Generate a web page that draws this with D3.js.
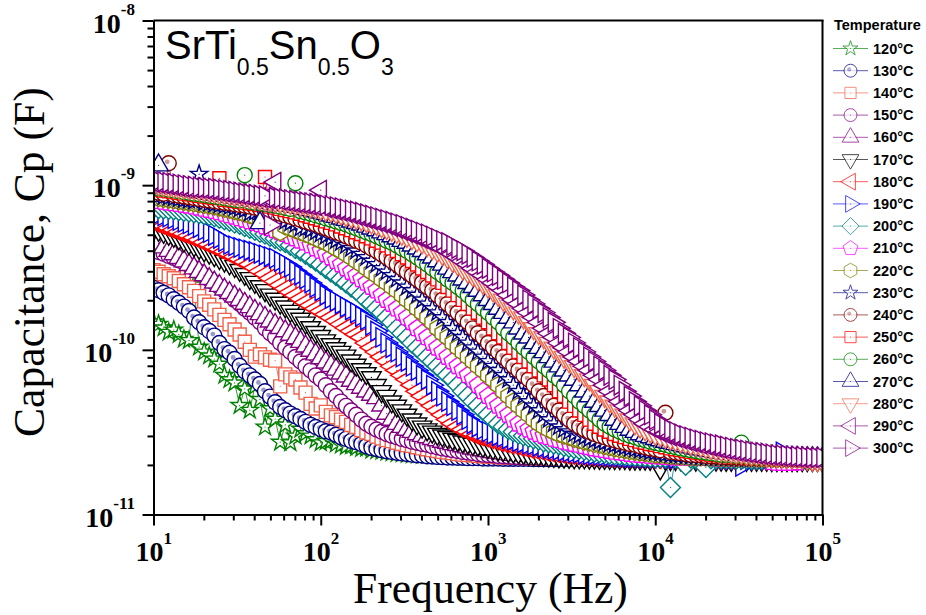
<!DOCTYPE html>
<html lang="en">

<head>
    <meta charset="UTF-8">
    <title>SrTi0.5Sn0.5O3 capacitance</title>
    <script src="https://d3js.org/d3.v7.min.js"></script>
    <style>
        html, body { margin: 0; padding: 0; background: #fff; }
        svg { display: block; }
    </style>
</head>

<body>
    <svg id="chart" width="926" height="615"></svg>
    <script>
        // frequency sweep in Hz
        const freq = [
            10,10.72,11.5,12.33,13.22,14.17,15.2,16.3,17.48,18.74,20.09,21.54,23.1,24.77,26.56,28.48,30.54,32.75,35.11,37.65,40.37,43.29,46.42,49.77,53.37,57.22,61.36,65.79,70.55,75.65,81.11,86.97,93.26,
            100,107.2,115,123.3,132.2,141.7,152,163,174.8,187.4,200.9,215.4,231,247.7,265.6,284.8,305.4,327.5,351.1,376.5,403.7,432.9,464.2,497.7,533.7,572.2,613.6,657.9,705.5,756.5,811.1,869.7,932.6,
            1000,1072,1150,1233,1322,1417,1520,1630,1748,1874,2009,2154,2310,2477,2656,2848,3054,3275,3511,3765,4037,4329,4642,4977,5337,5722,6136,6579,7055,7565,8111,8697,9326,
            10000,10720,11500,12330,13220,14170,15200,16300,17480,18740,20090,21540,23100,24770,26560,28480,30540,32750,35110,37650,40370,43290,46420,49770,53370,57220,61360,65790,70550,75650,81110,86970,93260,100000
        ];

        // capacitance in pF, one list per temperature
        const c120 = [
            148,143,136,128,132,124,116,114,248,104,
            97,92,88,82,70,66,63,46,58,43,
            60,50,34,44,38,27.5,35,27.3,30,33,
            31,30,28.5,27.3,27.8,28,26.8,26.4,25.9,26.2,
            25.5,25.2,25.3,24.6,24.4,24.2,23.9,23.7,23.5,23.4,23.2,
            23.1,23,22.9,22.9,22.8,22.8,22.7,22.7,22.6,22.6,22.5,
            22.5,22.5,22.4,22.4,22.4,22.3,22.3,22.3,22.2,22.2,22.2,
            22.2,22.1,22.1,22.1,22.1,22,22,22,22,22,21.9,
            21.9,21.9,21.9,21.9,21.9,21.8,21.8,21.8,21.8,21.8,21.8,
            21.7,21.7,21.7,21.7,21.7,21.7,21.7,21.7,21.7,21.7,21.7,
            21.7,21.6,21.6,21.6,21.6,21.6,21.6,21.6,21.6,21.6,21.6,
            21.6,21.6,21.6,21.6,21.5,21.5,21.5,21.5,21.5,21.5,21.5,
            21.5,21.5,21.5,21.5,21.5
        ];
        const c130 = [
            238,230,222,214,203,193,183,172,157,147,
            137,130,122,110,101,96,88,80,74,70,
            66,62,56,52,48,45,43,41,39.5,38,
            36.5,35,34,33,32,31.5,30.5,29.5,28.8,28,
            27.5,26.8,26,25.4,25,24.6,24.2,24,23.7,23.5,
            23.3,23.1,22.9,22.8,22.6,22.5,22.4,22.3,22.2,22.2,
            22.1,22.1,22,22,22,
            21.9,21.9,21.9,21.9,21.8,21.8,21.8,21.8,21.8,21.8,21.7,
            21.7,21.7,21.7,21.7,21.7,21.7,21.7,21.7,21.7,21.7,21.7,
            21.7,21.6,21.6,21.6,21.6,21.6,21.6,21.6,21.6,21.6,21.6,
            21.6,21.6,21.6,21.5,21.5,21.5,21.5,21.5,21.5,21.5,21.5,
            21.5,21.5,21.5,21.5,21.5,21.5,21.5,21.5,21.5,21.5,21.5,
            21.5,21.4,21.4,21.4,21.4,21.4,21.4,21.4,21.4,21.4,21.4,
            21.4,21.4
        ];
        const c140 = [
            305,298,288,280,272,262,250,240,228,212,
            197,188,176,163,152,143,133,124,112,100,
            91,94,90,87,86,60,71,68,66,59,
            55,47,44,46,42,40,39,37.7,36.5,35,
            34,32.5,31.5,30.8,29.7,29,28.3,27.9,27.3,26.8,
            26.4,26.1,25.6,25.2,24.9,24.6,24.3,24,23.8,23.6,
            23.3,23.1,23,22.9,22.7,22.6,22.5,22.4,22.3,22.2,
            22.2,22.1,22.1,22,22,22,
            21.9,21.9,21.9,21.8,21.8,21.8,21.8,21.8,21.7,21.7,21.7,
            21.7,21.7,21.6,21.6,21.6,21.6,21.6,21.6,21.5,21.5,21.5,
            21.5,21.5,21.5,21.5,21.4,21.4,21.4,21.4,21.4,21.4,21.4,
            21.4,21.4,21.4,21.3,21.3,21.3,21.3,21.3,21.3,21.3,21.3,
            21.3,21.3,21.3,21.3,21.3,21.3,21.3,21.3,21.3,21.3,21.3,
            21.3,21.3
        ];
        const c150 = [
            403,393,383,372,361,350,339,327,313,298,283,
            268,255,241,229,215,201,190,178,
            168,157,147,135,126,119,110,103,97,90.5,85,
            79.5,75,70,66,61,56,52.4,48.5,45.7,42.8,40.3,
            37.7,35.6,34.1,32.8,31.8,30.8,30.1,29.5,28.8,28.3,27.7,
            27.3,26.8,26.5,26,25.6,25.2,24.9,24.6,24.3,24,23.8,
            23.6,23.3,23.1,23,22.9,22.7,22.6,22.5,22.4,22.3,22.2,
            22.2,22.2,22.1,22.1,22,22,22,21.9,21.9,21.9,21.8,
            21.8,21.8,21.8,21.7,21.7,21.7,21.7,21.6,21.6,21.6,21.6,
            21.6,21.5,21.5,21.5,21.5,21.5,21.5,21.4,21.4,21.4,21.4,
            21.4,21.4,21.4,21.4,21.4,21.3,21.3,21.3,21.3,21.3,21.3,
            21.3,21.3,21.3,21.3,21.2,21.2,21.2,21.2,21.2,21.2,21.2,
            21.2,21.2,21.2,21.2
        ];
        const c160 = [
            464,442,420,400,381,362,345,328,313,298,
            284,270,257,245,233,222,211,201,191,182,
            173,165,157,149,142,136,130,124,118,112,
            105,99,94,89,84,80,76,72,69,65,
            62,59,56,53.5,51,46,41,
            37.7,35.6,34.1,32.8,31.8,30.8,30.1,29.5,28.8,28.3,27.7,
            27.3,26.8,26.5,26,25.6,25.2,24.9,24.6,24.3,24,23.8,
            23.6,23.3,23.1,23,22.9,22.7,22.6,22.5,22.4,22.3,22.2,
            22.2,22.2,22.1,22.1,22,22,22,21.9,21.9,21.9,21.8,
            21.8,21.8,21.8,21.7,21.7,21.7,21.7,21.6,21.6,21.6,21.6,
            21.6,21.5,21.5,21.5,21.5,21.5,21.5,21.4,21.4,21.4,21.4,
            21.4,21.4,21.4,21.4,21.4,21.3,21.3,21.3,21.3,21.3,21.3,
            21.3,21.3,21.3,21.3,21.2,21.2,21.2,21.2,21.2
        ];
        const c170 = [
            549,534,519,504,490,474,459,444,430,415,
            401,388,375,360,347,334,322,305,288,272,
            258,243,230,216,204,193,183,172,163,154,
            146,137,128,121,114,108,102,97,92,86,
            81,76,72,68,61,
            56,52.4,48.5,45.7,42.8,40.3,
            37.7,35.6,34.1,32.8,31.8,30.8,30.1,29.5,28.8,28.3,27.7,
            27.3,26.8,26.5,26,25.6,25.2,24.9,24.6,24.3,24,23.8,
            23.6,23.3,23.1,23,22.9,22.7,22.6,22.5,22.4,22.3,22.2,
            22.2,22.2,22.1,22.1,22,22,22,21.9,21.9,21.9,21.8,
            21.8,21.8,21.8,21.7,21.7,19,21.7,21.6,21.6,21.6,21.6,
            21.6,21.5,21.5,21.5,21.5,21.5,21.5,21.4,21.4,21.4,21.4,
            21.4,21.4,21.4,21.4,21.4,21.3,21.3,21.3,21.3,21.3,21.3,
            21.3,21.3,21.3,21.3,21.2
        ];
        const c180 = [
            596,580,565,550,535,520,507,493,480,465,
            450,436,422,408,395,381,368,355,342,330,
            316,300,288,272,260,247,235,224,214,204,
            194,186,178,171,164,157,150,143,136,130,
            124,119,
            110,103,97,90.5,85,
            79.5,75,70,66,61,56,52.4,48.5,45.7,42.8,40.3,
            37.7,35.6,34.1,32.8,31.8,30.8,30.1,29.5,28.8,28.3,27.7,
            27.3,26.8,26.5,26,25.6,25.2,24.9,24.6,24.3,24,23.8,
            23.6,23.3,23.1,23,22.9,22.7,22.6,22.5,22.4,22.3,22.2,
            22.2,22.2,22.1,22.1,22,22,22,21.9,21.9,21.9,21.8,
            21.8,21.8,21.8,21.7,21.7,21.7,21.7,21.6,21.6,21.6,21.6,
            21.6,21.5,21.5,21.5,21.5,21.5,21.5,21.4,21.4,21.4,21.4,
            21.4,21.4,21.4,21.4,21.4,21.3,21.3,21.3,21.3
        ];
        const c190 = [
            677,665,652,640,625,610,595,583,570,552,
            532,515,495,475,455,437,428,418,410,402,
            395,385,377,368,360,345,332,318,300,285,
            270,255,240,228,215,205,198,190,182,175,
            168,160,152,141,130,119,
            110,103,97,90.5,85,
            79.5,75,70,66,61,56,52.4,48.5,45.7,42.8,40.3,
            37.7,35.6,34.1,32.8,31.8,30.8,30.1,29.5,28.8,28.3,27.7,
            27.3,26.8,26.5,26,25.6,25.2,24.9,24.6,24.3,24,23.8,
            23.6,23.3,23.1,23,22.9,22.7,22.6,22.5,22.4,22.3,22.2,
            22.2,22.2,22.1,22.1,22,22,22,21.9,21.9,21.9,21.8,
            21.8,21.8,21.8,21.7,21.7,21.7,21.7,21.6,21.6,21.6,19.6,
            21.6,21.5,21.5,21.5,21.5,21.5,21.5,24,21.4,21.4,21.4,
            21.4,21.4,21.4,21.4,21.4
        ];
        const c200 = [
            726,722,718,714,708,702,695,688,680,672,664,655,643,
            629,617,603,590,578,561,547,533,518,505,
            490,475,460,448,431,413,399,381,364,346,330,
            312,297,283,268,255,241,229,215,201,190,178,
            168,157,147,135,126,119,110,103,97,90.5,85,
            79.5,75,70,66,61,56,52.4,48.5,45.7,42.8,40.3,
            37.7,35.6,34.1,32.8,31.8,30.8,30.1,29.5,28.8,28.3,27.7,
            27.3,26.8,26.5,26,25.6,25.2,24.9,24.6,24.3,24,23.8,
            23.6,23.3,23.1,23,22.9,22.7,22.6,22.5,22.4,22.3,22.2,
            22.2,22.2,14.6,22.1,22,19.9,22,21.9,21.9,19.3,21.8,
            21.8,21.8,21.8,21.7,21.7,21.7,21.7,21.6,21.6,21.6,21.6,
            21.6,21.5,21.5,21.5,21.5,21.5,21.5,21.4,21.4,21.4,21.4
        ];
        const c210 = [
            809,800,792,783,776,
            767,758,751,741,730,718,707,696,684,670,656,
            643,629,617,603,590,578,561,547,533,518,505,
            490,475,460,448,431,413,399,381,364,346,330,
            312,297,283,268,255,241,229,215,201,190,178,
            168,157,147,135,126,119,110,103,97,90.5,85,
            79.5,75,70,66,61,56,52.4,48.5,45.7,42.8,40.3,
            37.7,35.6,34.1,32.8,31.8,30.8,30.1,29.5,28.8,28.3,27.7,
            27.3,26.8,26.5,26,25.6,25.2,24.9,24.6,24.3,24,23.8,
            23.6,23.3,23.1,23,22.9,22.7,22.6,22.5,22.4,22.3,22.2,
            22.2,22.2,22.1,22.1,22,22,22,21.9,21.9,21.9,21.8,
            21.8,21.8,21.8,21.7,21.7,21.7,21.7,20.8,20.6,20.6,20.6,
            20.6,20.7,21.5,21.5,21.5,21.5,21.4
        ];
        const c220 = [
            844,835,826,816,809,800,792,783,776,
            767,758,751,741,730,718,707,696,684,670,656,
            643,629,617,603,590,519,561,547,533,518,505,
            490,475,460,448,431,413,399,381,364,346,330,
            312,297,283,268,255,241,229,215,201,190,178,
            168,157,147,135,126,119,110,103,97,90.5,85,
            79.5,75,70,66,61,56,52.4,48.5,45.7,42.8,40.3,
            37.7,35.6,34.1,32.8,31.8,30.8,30.1,29.5,28.8,28.3,27.7,
            27.3,26.8,26.5,26,25.6,25.2,24.9,24.6,24.3,24,23.8,
            23.6,23.3,23.1,23,22.9,22.7,22.6,22.5,22.4,22.3,22.2,
            22.2,22.2,22.1,22.1,22,22,22,21.9,21.9,21.9,21.8,
            21.8,21.8,21.8,21.7,21.7,21.7,21.7,21.6,21.6,21.6,21.6,
            21.6,21.5,21.5
        ];
        const c230 = [
            871,
            862,853,844,835,826,816,809,800,1166,783,776,
            767,758,751,741,730,718,707,677,684,670,656,
            643,629,617,603,590,578,549,547,533,518,505,
            490,475,460,448,431,413,399,381,364,346,330,
            312,297,283,268,255,241,229,215,201,190,178,
            168,157,147,135,126,119,110,103,97,90.5,85,
            79.5,75,70,66,61,56,52.4,48.5,45.7,42.8,40.3,
            37.7,35.6,34.1,32.8,31.8,30.8,30.1,29.5,28.8,28.3,27.7,
            27.3,26.8,26.5,26,25.6,25.2,24.9,24.6,24.3,24,23.8,
            23.6,23.3,23.1,23,22.9,22.7,22.6,22.5,22.4,22.3,22.2,
            22.2,22.2,22.1,22.1,22,22,22,21.9,21.9,21.9,21.8,
            21.8,21.8,21.8,21.7,21.7,21.7,21.7,21.6,21.6,21.6,21.6
        ];
        const c240 = [
            908,899,889,1358,871,
            862,853,844,835,826,816,809,800,792,783,776,
            767,758,751,741,730,718,707,696,684,670,656,
            643,629,617,603,590,578,561,547,533,518,505,
            490,475,460,448,431,413,399,381,364,346,330,
            312,297,283,268,255,241,229,215,201,190,178,
            168,157,147,135,126,119,110,103,97,90.5,85,
            79.5,75,70,66,61,56,52.4,48.5,45.7,42.8,40.3,
            37.7,35.6,34.1,32.8,31.8,30.8,30.1,29.5,28.8,28.3,27.7,
            27.3,26.8,26.5,26,25.6,25.2,24.9,24.6,41.5,24,23.8,
            23.6,23.3,23.1,23,22.9,22.7,22.6,22.5,22.4,22.3,22.2,
            22.2,22.2,22.1,22.1,22,22,22,21.9,21.9,21.9,21.8,
            21.8,21.8,21.8,21.8,21.7,21.7,21.7
        ];
        const c250 = [
            949,938,928,919,908,899,889,880,871,
            862,853,844,835,1101,816,809,800,792,783,776,
            767,758,1120,741,730,718,707,696,684,670,656,
            643,629,617,603,590,578,561,547,533,518,505,
            490,475,460,448,431,413,399,381,364,346,330,
            312,297,283,268,255,241,229,215,201,190,178,
            168,157,147,135,126,119,110,103,97,90.5,85,
            79.5,75,70,66,61,56,52.4,48.5,45.7,42.8,40.3,
            37.7,35.6,34.1,32.8,31.8,30.8,30.1,29.5,28.8,28.3,27.7,
            27.3,26.8,26.5,26,25.6,25.2,24.9,24.6,24.3,24,23.8,
            23.6,23.3,23.1,23,22.9,22.7,22.6,22.5,22.4,22.3,22.2,
            22.2,22.2,22.1,22.1,22,22,22,21.9,21.9,21.9,21.8,
            21.8,21.8,21.8
        ];
        const c260 = [
            963,958,949,938,928,919,908,899,889,880,871,
            862,853,844,835,826,816,809,1150,792,783,776,
            767,758,751,741,730,718,1028,696,684,670,656,
            643,629,617,603,590,578,561,547,533,518,505,
            490,475,460,448,431,413,399,381,364,346,330,
            312,297,283,268,255,241,229,215,201,190,178,
            168,157,147,135,126,119,110,103,97,90.5,85,
            79.5,75,70,66,61,56,52.4,48.5,45.7,42.8,40.3,
            37.7,35.6,34.1,32.8,31.8,30.8,30.1,29.5,28.8,28.3,27.7,
            27.3,26.8,26.5,26,25.6,25.2,24.9,24.6,24.3,24,23.8,
            23.6,23.3,23.1,23,22.9,22.7,27.3,22.5,22.4,22.3,22.2,
            22.2,22.2,22.1,22.1,22,22,22,21.9,21.9,21.9,21.8,
            21.8
        ];
        const c270 = [
            985,1321,968,
            963,958,949,938,928,919,908,899,889,880,871,
            862,853,844,835,826,816,809,589,792,783,776,
            767,758,751,741,730,718,707,696,684,670,656,
            643,629,617,603,590,578,561,547,533,518,505,
            490,475,460,448,431,413,399,381,364,346,330,
            312,297,283,268,255,241,229,215,201,190,178,
            168,157,147,135,126,119,110,103,97,90.5,85,
            79.5,75,70,66,61,56,52.4,48.5,45.7,42.8,40.3,
            37.7,35.6,34.1,32.8,31.8,30.8,30.1,29.5,28.8,28.3,27.7,
            27.3,26.8,26.5,26,25.6,25.2,24.9,24.6,24.3,24,23.8,
            23.6,23.3,23.1,23,22.9,22.7,22.6,22.5,22.4,22.3,22.2,
            22.2,22.2,22.1,22.1,22,22,22,21.9,21.9
        ];
        const c280 = [
            1017,1007,996,985,975,968,
            963,958,949,938,928,919,908,899,889,880,871,
            862,853,844,835,826,816,809,800,792,783,776,
            767,758,751,741,730,718,707,696,684,670,656,
            643,629,617,603,590,578,561,547,533,518,505,
            490,475,460,448,431,413,399,381,364,346,330,
            312,297,283,268,255,241,229,215,201,190,178,
            168,157,147,135,126,119,110,103,97,90.5,85,
            79.5,75,70,66,61,56,52.4,48.5,45.7,42.8,40.3,
            37.7,35.6,34.1,32.8,31.8,30.8,30.1,29.5,28.8,28.3,27.7,
            27.3,26.8,26.5,26,25.6,25.2,24.9,24.6,24.3,24,23.8,
            23.6,23.3,23.1,23,22.9,22.7,22.6,22.5,22.4,22.3,22.2,
            22.2,22,21.8,21.5,21.3,21.1
        ];
        const c290 = [
            1038,1028,1017,1007,996,985,975,968,
            963,958,949,938,928,919,908,899,889,880,871,
            862,853,844,835,826,1043,809,800,792,783,776,
            767,758,751,933,730,718,707,696,684,670,656,
            643,629,617,603,590,578,561,547,533,518,505,
            490,475,460,448,431,413,399,381,364,346,330,
            312,297,283,268,255,241,229,215,201,190,178,
            168,157,147,135,126,119,110,103,97,90.5,85,
            79.5,75,70,66,61,56,52.4,48.5,45.7,42.8,40.3,
            37.7,35.6,34.1,32.8,31.8,30.8,30.1,29.5,28.8,28.3,27.7,
            27.3,26.8,26.5,26,25.6,25.2,24.9,24.6,24.3,24,23.8,
            23.6,23.3,23.1,23,22.9,22.7,22.6,22.5,22.4,22.3,22.2,
            22.2,22.2,22.1,22.1
        ];
        const c300 = [
            1072,1061,1050,1038,1028,1017,1007,996,985,975,968,
            963,958,949,938,928,919,908,899,889,880,871,
            862,573,844,835,826,816,809,800,792,783,776,
            767,758,751,741,730,718,707,696,684,670,656,
            643,629,617,603,590,578,561,547,533,518,505,
            490,475,460,448,431,413,399,381,364,346,330,
            312,297,283,268,255,241,229,215,201,190,178,
            168,157,147,135,126,119,110,103,97,90.5,85,
            79.5,75,70,66,61,56,52.4,48.5,45.7,42.8,40.3,
            37.7,35.6,34.1,32.8,31.8,30.8,30.1,29.5,28.8,28.3,27.7,
            27.3,26.8,26.5,26,25.6,25.2,24.9,24.6,24.3,24,23.8,
            23.6,23.3,23.1,23,22.9,22.7,22.6,22.5,22.4,22.3,22.2,
            22.2
        ];

        const series = [c120, c130, c140, c150, c160, c170, c180, c190, c200, c210,
            c220, c230, c240, c250, c260, c270, c280, c290, c300];
        const temps = ["120", "130", "140", "150", "160", "170", "180", "190", "200", "210",
            "220", "230", "240", "250", "260", "270", "280", "290", "300"];
        const xTickExp = [1, 2, 3, 4, 5];
        const yTickExp = [-11, -10, -9, -8];

        const colors = ["#008000", "#000080", "#f0604a", "#800080", "#800080", "#000000", "#ff0000",
            "#0000ff", "#008080", "#ff00ff", "#808000", "#000080", "#800000", "#ff0000", "#008000",
            "#000080", "#f0684e", "#800080", "#800080"];
        const shapes = ["star", "ball", "square", "circle", "up", "down", "left", "right", "diamond",
            "pentagon", "hexagon", "star", "ball", "square", "circle", "up", "down", "left", "right"];

        const serif = "'Liberation Serif','Times New Roman',serif";
        const sans = "'Liberation Sans',Arial,sans-serif";

        const svg = d3.select("#chart");
        const x = d3.scaleLog().domain([1e1, 1e5]).range([153.5, 822.5]);
        const y = d3.scaleLog().domain([1e-11, 1e-8]).range([514.5, 20.5]);

        // regular polygon with a point on top, for d3.symbol
        function polygon(n) {
            return {
                draw(ctx, size) {
                    const r = Math.sqrt(size);
                    for (let i = 0; i < n; i++) {
                        const a = -Math.PI / 2 + i * 2 * Math.PI / n;
                        if (i == 0) ctx.moveTo(r * Math.cos(a), r * Math.sin(a));
                        else ctx.lineTo(r * Math.cos(a), r * Math.sin(a));
                    }
                    ctx.closePath();
                }
            };
        }

        const symbolPath = {
            star: d3.symbol().type(d3.symbolStar).size(95)(),
            ball: d3.symbol().type(d3.symbolCircle).size(177)(),
            circle: d3.symbol().type(d3.symbolCircle).size(177)(),
            square: d3.symbol().type(d3.symbolSquare).size(169)(),
            up: d3.symbol().type(d3.symbolTriangle).size(165)(),
            down: d3.symbol().type(d3.symbolTriangle).size(165)(),
            left: d3.symbol().type(d3.symbolTriangle).size(165)(),
            right: d3.symbol().type(d3.symbolTriangle).size(165)(),
            diamond: d3.symbol().type(polygon(4)).size(100)(),
            pentagon: d3.symbol().type(polygon(5)).size(81)(),
            hexagon: d3.symbol().type(polygon(6)).size(72)()
        };
        const symbolTurn = { down: 180, left: -90, right: 90 };

        // one marker, white filled so that the next one hides it
        function drawMarker(g, shape, color, sw) {
            g.append("path")
                .attr("d", symbolPath[shape])
                .attr("transform", symbolTurn[shape] ? "rotate(" + symbolTurn[shape] + ")" : null)
                .attr("fill", "#fff")
                .attr("stroke", color)
                .attr("stroke-width", sw);
            if (shape == "ball") {
                g.append("circle").attr("cx", -1.5).attr("cy", -1.5).attr("r", 2.4)
                    .attr("fill", color).attr("opacity", 0.4);
            } else {
                g.append("circle").attr("r", 0.6).attr("fill", color);
            }
        }

        // markers stop at the frame
        svg.append("clipPath").attr("id", "plotClip")
            .append("rect")
            .attr("x", 153.5).attr("y", 20.5)
            .attr("width", 669).attr("height", 494);

        const plot = svg.append("g").attr("clip-path", "url(#plotClip)");
        const line = d3.line()
            .x((d) => x(d[0]))
            .y((d) => y(d[1] * 1e-12));

        series.forEach((values, s) => {
            const points = d3.zip(freq, values);
            const g = plot.append("g").attr("class", "series");
            g.append("path")
                .attr("d", line(points))
                .attr("fill", "none")
                .attr("stroke", colors[s])
                .attr("stroke-width", 0.8);
            g.selectAll("g.pt")
                .data(points)
                .enter()
                .append("g")
                .attr("class", "pt")
                .attr("transform", (d) => "translate(" + x(d[0]) + "," + y(d[1] * 1e-12) + ")")
                .each(function () {
                    drawMarker(d3.select(this), shapes[s], colors[s], 1.4);
                });
        });

        // frame and ticks
        function minorsOf(exps) {
            const list = [];
            for (let e = exps[0]; e < exps[exps.length - 1]; e++) {
                for (let m = 2; m < 10; m++) list.push(m * Math.pow(10, e));
            }
            return list;
        }
        const xMajor = xTickExp.map((e) => Math.pow(10, e));
        const yMajor = yTickExp.map((e) => Math.pow(10, e));

        function styleAxis(g) {
            g.selectAll("path,line").attr("stroke", "#000").attr("stroke-width", 2);
            g.selectAll("text").remove();
        }

        svg.append("g").attr("transform", "translate(0,514.5)")
            .call(d3.axisBottom(x).tickValues(xMajor).tickSize(11).tickSizeOuter(0).tickFormat(""))
            .call(styleAxis);
        svg.append("g").attr("transform", "translate(0,514.5)")
            .call(d3.axisBottom(x).tickValues(minorsOf(xTickExp)).tickSize(6).tickSizeOuter(0).tickFormat(""))
            .call(styleAxis);
        svg.append("g").attr("transform", "translate(153.5,0)")
            .call(d3.axisLeft(y).tickValues(yMajor).tickSize(11).tickSizeOuter(0).tickFormat(""))
            .call(styleAxis);
        svg.append("g").attr("transform", "translate(153.5,0)")
            .call(d3.axisLeft(y).tickValues(minorsOf(yTickExp)).tickSize(6).tickSizeOuter(0).tickFormat(""))
            .call(styleAxis);
        svg.append("line").attr("x1", 153.5).attr("x2", 823.5).attr("y1", 20.5).attr("y2", 20.5)
            .attr("stroke", "#000").attr("stroke-width", 2);
        svg.append("line").attr("x1", 822.5).attr("x2", 822.5).attr("y1", 20).attr("y2", 515)
            .attr("stroke", "#000").attr("stroke-width", 2);

        // tick labels, 10 with a raised power
        function powerLabel(px, py, exp, anchor, rise) {
            const t = svg.append("text")
                .attr("x", px).attr("y", py)
                .attr("text-anchor", anchor)
                .attr("font-family", serif)
                .attr("font-weight", "bold")
                .attr("font-size", 28);
            t.append("tspan").text("10");
            t.append("tspan").attr("dy", -rise).attr("font-size", 17).text(exp);
        }
        xTickExp.forEach((e) => powerLabel(x(Math.pow(10, e)) - 18, 561, e, "start", 17));
        yTickExp.forEach((e) => powerLabel(135, y(Math.pow(10, e)) + 12, e, "end", 18));

        svg.append("text")
            .attr("x", 353).attr("y", 603)
            .attr("font-family", serif).attr("font-size", 43.6)
            .text("Frequency (Hz)");
        svg.append("text")
            .attr("transform", "translate(44,437) rotate(-90)")
            .attr("font-family", serif).attr("font-size", 43.6)
            .text("Capacitance, Cp (F)");

        // compound name with subscripts
        const name = svg.append("text")
            .attr("x", 165).attr("y", 59)
            .attr("font-family", sans).attr("font-size", 40);
        [["SrTi", 0], ["0.5", 1], ["Sn", 0], ["0.5", 1], ["O", 0], ["3", 1]].forEach((part, i, all) => {
            const prev = i > 0 ? all[i - 1][1] : 0;
            const ts = name.append("tspan").text(part[0]);
            if (part[1]) ts.attr("font-size", 23).attr("dy", 16);
            else if (prev) ts.attr("dy", -16);
        });

        // legend
        const legend = svg.append("g");
        legend.append("text")
            .attr("x", 834).attr("y", 30)
            .attr("font-family", sans).attr("font-weight", "bold").attr("font-size", 14.5)
            .text("Temperature");
        temps.forEach((t, s) => {
            const ly = 48.5 + s * 22.2;
            const row = legend.append("g").attr("transform", "translate(0," + ly + ")");
            row.append("line")
                .attr("x1", 833).attr("x2", 868)
                .attr("stroke", colors[s]).attr("stroke-opacity", 0.65).attr("stroke-width", 1);
            const mark = row.append("g").attr("transform", "translate(850.5,0) scale(0.86)").attr("opacity", 0.75);
            drawMarker(mark, shapes[s], colors[s], 1.1);
            row.append("text")
                .attr("x", 873).attr("y", 5)
                .attr("font-family", sans).attr("font-weight", "bold").attr("font-size", 14.5)
                .text(t + "°C");
        });
    </script>
</body>

</html>
